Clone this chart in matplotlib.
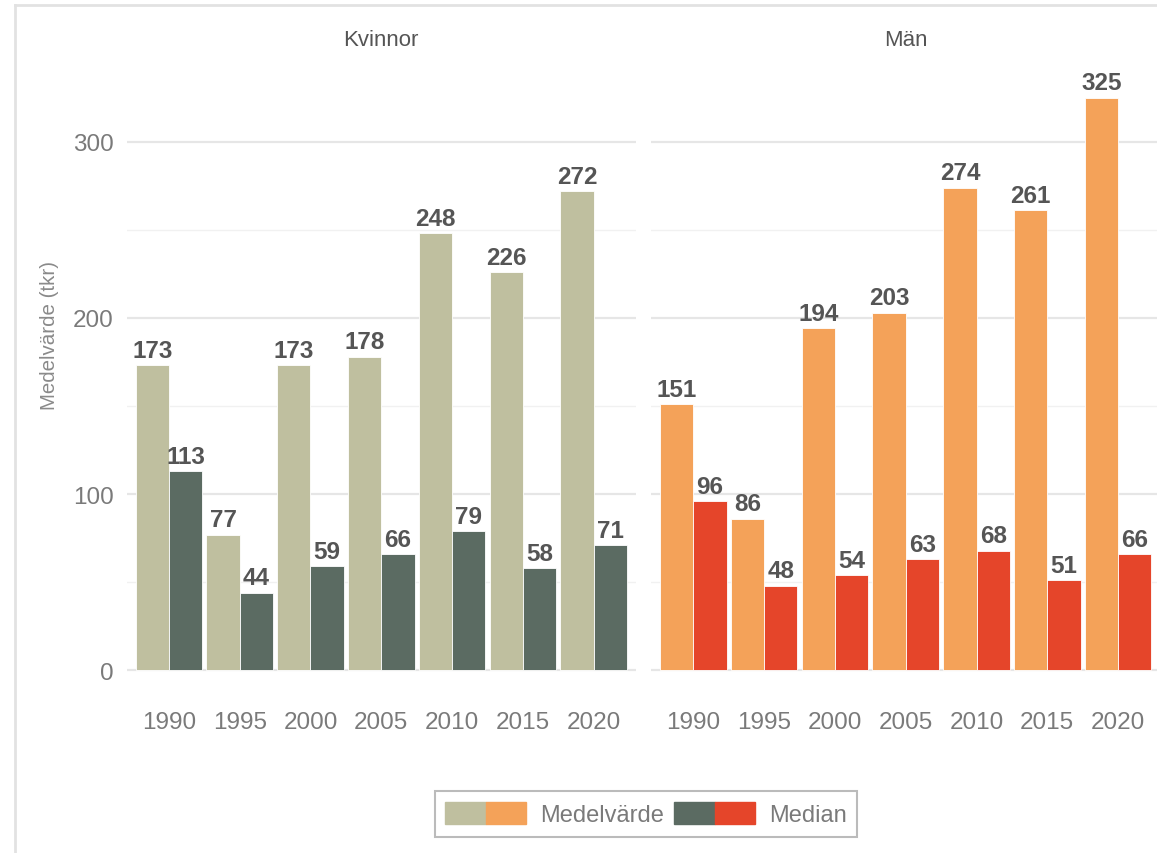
import numpy as np
import matplotlib
matplotlib.use("Agg")
from matplotlib import pyplot as plt
from matplotlib.patches import Patch
from matplotlib.legend_handler import HandlerTuple
from matplotlib.lines import Line2D

plt.rcParams['font.family'] = ['Liberation Sans', 'DejaVu Sans']

# data
years = ["1990", "1995", "2000", "2005", "2010", "2015", "2020"]
kvinnor_medel = [173, 77, 173, 178, 248, 226, 272]
kvinnor_median = [113, 44, 59, 66, 79, 58, 71]
man_medel = [151, 86, 194, 203, 274, 261, 325]
man_median = [96, 48, 54, 63, 68, 51, 66]

W, H = 1157, 854
fig = plt.figure(figsize=(W / 100, H / 100), dpi=100)

# panels (pixel positions -> figure fractions)
def px_axes(x0, x1, ytop, ybot):
    return fig.add_axes([x0 / W, 1 - ybot / H, (x1 - x0) / W, (ybot - ytop) / H])

ax1 = px_axes(126.5, 636, 70, 700)
ax2 = px_axes(651, 1160.5, 70, 700)

panels = [
    (ax1, "Kvinnor", kvinnor_medel, kvinnor_median, "#bfbf9f", "#5b6b62"),
    (ax2, "Män", man_medel, man_median, "#f4a259", "#e5452a"),
]

x = np.arange(len(years))
bw = 0.47
for ax, title, medel, median, c1, c2 in panels:
    ax.set_xlim(-0.6, len(years) - 0.4)
    ax.set_ylim(-16.25, 341.25)
    ax.set_yticks([0, 100, 200, 300])
    ax.set_yticks([50, 150, 250], minor=True)
    ax.grid(axis='y', which='major', color='#e6e6e6', linewidth=1.6)
    ax.grid(axis='y', which='minor', color='#f1f1f1', linewidth=1.0)
    ax.set_axisbelow(True)
    for s in ax.spines.values():
        s.set_visible(False)
    ax.tick_params(which='both', length=0)
    ax.tick_params(labelsize=17.5, labelcolor='#7a7a7a', pad=9)
    ax.set_xticks(x)
    ax.set_xticklabels(years)

    b1 = ax.bar(x - bw / 2, medel, width=bw, color=c1, edgecolor='white', linewidth=0.6)
    b2 = ax.bar(x + bw / 2, median, width=bw, color=c2, edgecolor='white', linewidth=0.6)
    for bars, vals in ((b1, medel), (b2, median)):
        for r, v in zip(bars, vals):
            ax.text(r.get_x() + r.get_width() / 2, v + 2, str(v), ha='center', va='bottom',
                    fontsize=17.5, fontweight='bold', color='#555555')

    ax.text(0.5, 1 + 30 / 630, title, transform=ax.transAxes, ha='center', va='center',
            fontsize=16, color='#555555')

ax2.tick_params(axis='y', labelleft=False)

fig.text(50 / W, 1 - 335 / H, "Medelvärde (tkr)", rotation=90, ha='center', va='center',
         fontsize=14.8, color='#8a8a8a')

# legend
handles = [(Patch(color="#bfbf9f"), Patch(color="#f4a259")),
           (Patch(color="#5b6b62"), Patch(color="#e5452a"))]
leg = fig.legend(handles, ["Medelvärde", "Median"], ncol=2,
                 handler_map={tuple: HandlerTuple(ndivide=None, pad=0)},
                 loc='center', bbox_to_anchor=(646 / W, 1 - 815 / H),
                 fontsize=17, handlelength=3.4, handleheight=1.05, handletextpad=0.6,
                 columnspacing=0.45, borderpad=0.45, frameon=True, fancybox=False,
                 edgecolor='#aaaaaa', labelcolor='#7a7a7a')
leg.get_frame().set_linewidth(1.5)

# outer frame lines (left and top)
fig.add_artist(Line2D([15 / W, 15 / W], [0, 1 - 6 / H], color='#e2e2e2', linewidth=2))
fig.add_artist(Line2D([15 / W, 1], [1 - 6 / H, 1 - 6 / H], color='#e2e2e2', linewidth=2))

fig.savefig("out.png", dpi=100)
